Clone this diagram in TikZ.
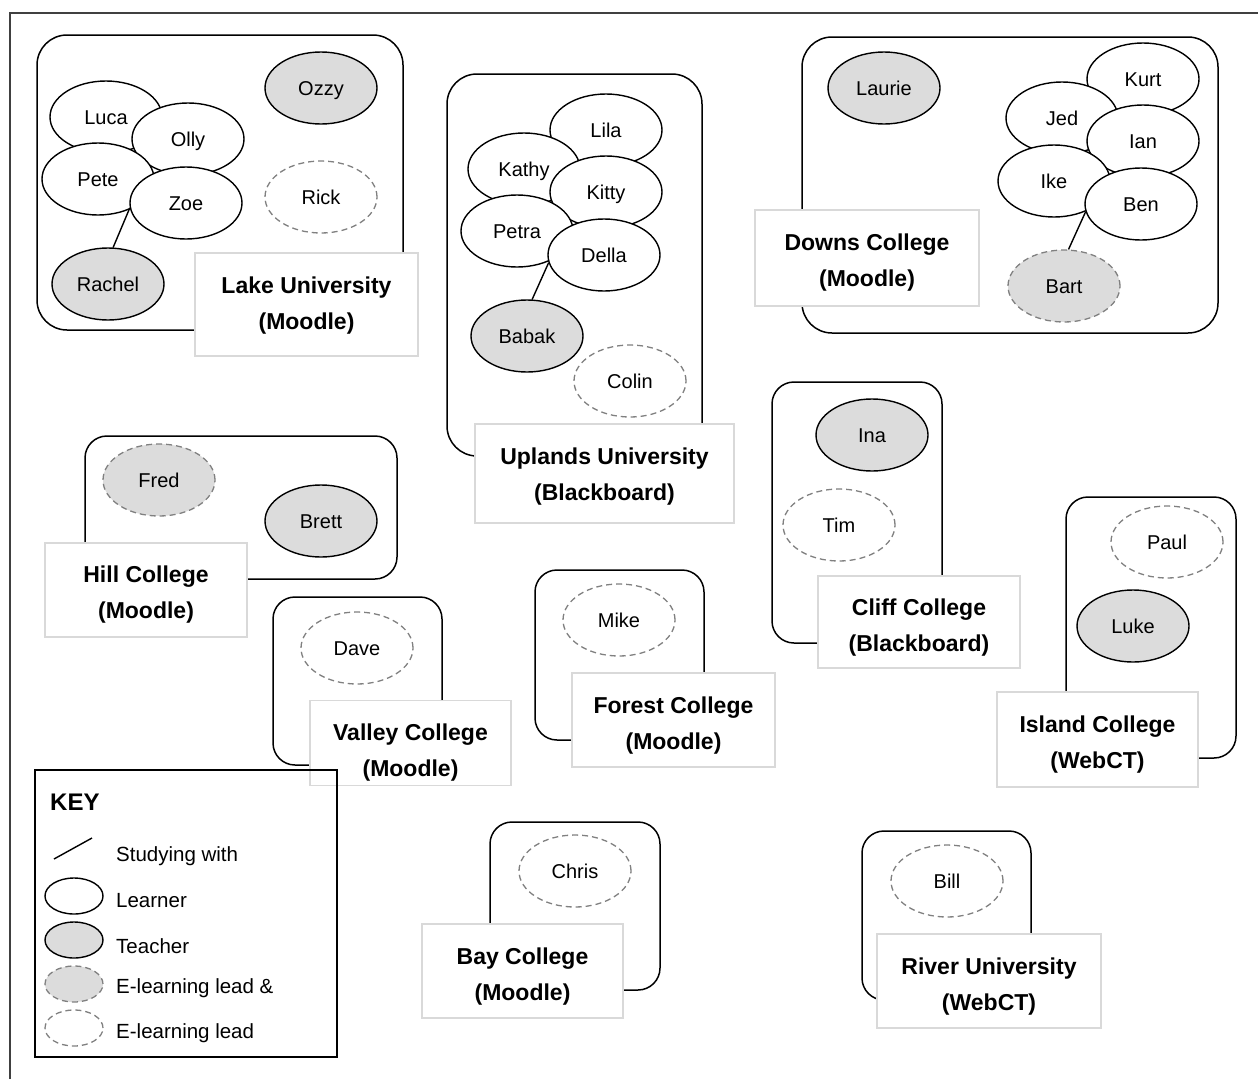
\documentclass[tikz,border=0pt]{standalone}
\usepackage{fontspec}
\setmainfont{Liberation Sans}
\usetikzlibrary{shapes.geometric}
\definecolor{tgray}{HTML}{DCDCDC}
\definecolor{dgray}{HTML}{808080}
\definecolor{lgray}{HTML}{D9D9D9}
\definecolor{fgray}{HTML}{404040}
\begin{document}
\begin{tikzpicture}[x=1pt,y=-1pt,
  person/.style={ellipse, line width=1.4pt, minimum width=112pt, minimum height=72pt,
    inner sep=0pt, text height=14.3pt, text depth=0pt, font=\fontsize{20}{24}\selectfont},
  learner/.style={person, draw=black, fill=white},
  teacher/.style={person, draw=black, fill=tgray},
  leadteacher/.style={person, draw=dgray, fill=tgray, dash pattern=on 6pt off 4pt, line width=1.3pt},
  lead/.style={person, draw=dgray, fill=white, dash pattern=on 6pt off 4pt, line width=1.3pt},
  keyshape/.style={minimum width=58pt, minimum height=36pt},
  grpbox/.style={draw=black, line width=1.5pt, rounded corners=22pt},
  bigbox/.style={grpbox, rounded corners=30pt},
  labelbox/.style={draw=lgray, line width=1.6pt, fill=white, inner sep=0pt},
  labeltext/.style={align=center, inner sep=0pt, font=\fontsize{23}{36}\selectfont\bfseries},
  studies/.style={draw=black, line width=1.4pt},
  keytext/.style={anchor=west, inner sep=0pt, text height=14.3pt, text depth=0pt,
    font=\fontsize{20.5}{24}\selectfont},
]
\useasboundingbox (0,0) rectangle (1258,1079);
% outer frame
\draw[fgray, line width=1.3pt] (10,1079) -- (10,13) -- (1258,13);

% ---------------- Lake University ----------------
\draw[bigbox] (37,35) rectangle (403,330);
\node[learner] (luca) at (106,117) {Luca};
\node[learner] (olly) at (188,139) {Olly};
\node[learner] (pete) at (98,179) {Pete};
\node[learner] (zoe) at (186,203) {Zoe};
\node[teacher] (ozzy) at (321,88) {Ozzy};
\node[lead] (rick) at (321,197) {Rick};
\node[teacher] (rachel) at (108,284) {Rachel};
\draw[studies] (rachel.82) -- (zoe.185);
\node[labelbox, minimum width=223pt, minimum height=103pt] (lakelbl) at (306.5,304.5) {};
\node[labeltext] (laketxt) at (306.5,305.5) {Lake University\\(Moodle)};

% ---------------- Uplands University ----------------
\draw[bigbox] (447,74) rectangle (702,456);
\node[learner] (lila) at (606,130) {Lila};
\node[learner] (kathy) at (524,169) {Kathy};
\node[learner] (kitty) at (606,192) {Kitty};
\node[learner] (petra) at (517,231) {Petra};
\node[learner] (della) at (604,255) {Della};
\node[teacher] (babak) at (527,336) {Babak};
\node[lead] (colin) at (630,381) {Colin};
\draw[studies] (babak.82) -- (della.188);
\node[labelbox, minimum width=259pt, minimum height=99pt] (uplandslbl) at (604.5,473.5) {};
\node[labeltext] (uplandstxt) at (604.5,476.5) {Uplands University\\(Blackboard)};

% ---------------- Downs College ----------------
\draw[bigbox] (802,37) rectangle (1218,333);
\node[teacher] (laurie) at (884,88) {Laurie};
\node[learner] (kurt) at (1143,79) {Kurt};
\node[learner] (jed) at (1062,118) {Jed};
\node[learner] (ian) at (1143,141) {Ian};
\node[learner] (ike) at (1054,181) {Ike};
\node[learner] (ben) at (1141,204) {Ben};
\node[leadteacher] (bart) at (1064,286) {Bart};
\draw[studies] (bart.83) -- (ben.188);
\node[labelbox, minimum width=224pt, minimum height=96pt] (downslbl) at (867,258) {};
\node[labeltext] (downstxt) at (867,263) {Downs College\\(Moodle)};

% ---------------- Hill College ----------------
\draw[grpbox] (85,436) rectangle (397,579);
\node[leadteacher] (fred) at (159,480) {Fred};
\node[teacher] (brett) at (321,521) {Brett};
\node[labelbox, minimum width=202pt, minimum height=94pt] (hilllbl) at (146,590) {};
\node[labeltext] (hilltxt) at (146,595) {Hill College\\(Moodle)};

% ---------------- Valley College ----------------
\draw[grpbox] (273,597) rectangle (442,765);
\node[lead] (dave) at (357,648) {Dave};
\node[labelbox, minimum width=201pt, minimum height=85pt] (valleylbl) at (410.5,743) {};
\node[labeltext] (valleytxt) at (410.5,753) {Valley College\\(Moodle)};

% ---------------- Forest College ----------------
\draw[grpbox] (535,570) rectangle (704,740);
\node[lead] (mike) at (619,620) {Mike};
\node[labelbox, minimum width=203pt, minimum height=94pt] (forestlbl) at (673.5,720) {};
\node[labeltext] (foresttxt) at (673.5,726) {Forest College\\(Moodle)};

% ---------------- Cliff College ----------------
\draw[grpbox] (772,382) rectangle (942,643);
\node[teacher] (ina) at (872,435) {Ina};
\node[lead] (tim) at (839,525) {Tim};
\node[labelbox, minimum width=202pt, minimum height=92pt] (clifflbl) at (919,622) {};
\node[labeltext] (clifftxt) at (919,628) {Cliff College\\(Blackboard)};

% ---------------- Island College ----------------
\draw[grpbox] (1066,497) rectangle (1236,758);
\node[lead] (paul) at (1167,542) {Paul};
\node[teacher] (luke) at (1133,626) {Luke};
\node[labelbox, minimum width=201pt, minimum height=95pt] (islandlbl) at (1097.5,739.5) {};
\node[labeltext] (islandtxt) at (1097.5,744.5) {Island College\\(WebCT)};

% ---------------- Bay College ----------------
\draw[grpbox] (490,822) rectangle (660,990);
\node[lead] (chris) at (575,871) {Chris};
\node[labelbox, minimum width=201pt, minimum height=94pt] (baylbl) at (522.5,971) {};
\node[labeltext] (baytxt) at (522.5,977) {Bay College\\(Moodle)};

% ---------------- River University ----------------
\draw[grpbox] (862,831) rectangle (1031,1000);
\node[lead] (bill) at (947,881) {Bill};
\node[labelbox, minimum width=224pt, minimum height=94pt] (riverlbl) at (989,981) {};
\node[labeltext] (rivertxt) at (989,987) {River University\\(WebCT)};

% ---------------- Key ----------------
\node[draw=black, line width=1.5pt, minimum width=302pt, minimum height=287pt, inner sep=0pt] (keybox) at (186,913.5) {};
\node[anchor=west, inner sep=0pt, font=\fontsize{24}{28}\selectfont\bfseries] (keytitle) at (50,802) {KEY};
\coordinate (keyls) at (54,859);
\coordinate (keyle) at (92,838);
\draw[studies] (keyls) -- (keyle);
\node[keytext] (keystudy) at (116,854) {Studying with};
\node[learner, keyshape] (keylearner) at (74,896) {};
\node[keytext] (keylearnertxt) at (116,900) {Learner};
\node[teacher, keyshape] (keyteacher) at (74,940) {};
\node[keytext] (keyteachertxt) at (116,946) {Teacher};
\node[leadteacher, keyshape] (keyleadteacher) at (74,984) {};
\node[keytext] (keyleadteachertxt) at (116,986) {E-learning lead \&};
\node[lead, keyshape] (keylead) at (74,1028) {};
\node[keytext] (keyleadtxt) at (116,1031) {E-learning lead};
\end{tikzpicture}
\end{document}
